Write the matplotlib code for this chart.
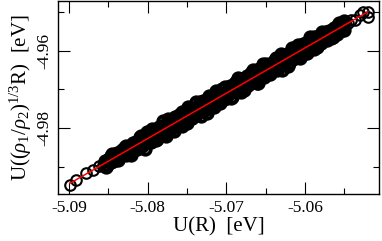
import matplotlib
matplotlib.use('Agg')
import matplotlib.pyplot as plt

plt.rcParams['font.family'] = ['Liberation Serif', 'DejaVu Serif']
plt.rcParams['mathtext.fontset'] = 'custom'
plt.rcParams['mathtext.rm'] = 'Liberation Serif'
plt.rcParams['mathtext.it'] = 'Liberation Serif:italic'

# sparse points at the low end
x_low = [-5.0899, -5.0891, -5.0878, -5.0869, -5.0862, -5.0857]
y_low = [-4.9945, -4.9933, -4.9914, -4.9907, -4.9898, -4.9895]

# dense band, first pass
x_band = [
    -5.0854, -5.0852, -5.0850, -5.0848, -5.0846, -5.0844, -5.0842, -5.0840, -5.0838, -5.0836, -5.0834, -5.0832,
    -5.0830, -5.0828, -5.0826, -5.0824, -5.0822, -5.0820, -5.0818, -5.0816, -5.0814, -5.0812, -5.0810, -5.0808,
    -5.0806, -5.0804, -5.0802, -5.0800, -5.0798, -5.0796, -5.0794, -5.0792, -5.0790, -5.0788, -5.0786, -5.0784,
    -5.0782, -5.0780, -5.0778, -5.0776, -5.0774, -5.0772, -5.0770, -5.0768, -5.0766, -5.0764, -5.0762, -5.0760,
    -5.0758, -5.0756, -5.0754, -5.0752, -5.0750, -5.0748, -5.0746, -5.0744, -5.0742, -5.0740, -5.0738, -5.0736,
    -5.0734, -5.0732, -5.0730, -5.0728, -5.0726, -5.0724, -5.0722, -5.0720, -5.0718, -5.0716, -5.0714, -5.0712,
    -5.0710, -5.0708, -5.0706, -5.0704, -5.0702, -5.0700, -5.0698, -5.0696, -5.0694, -5.0692, -5.0690, -5.0688,
    -5.0686, -5.0684, -5.0682, -5.0680, -5.0678, -5.0676, -5.0674, -5.0672, -5.0670, -5.0668, -5.0666, -5.0664,
    -5.0662, -5.0660, -5.0658, -5.0656, -5.0654, -5.0652, -5.0650, -5.0648, -5.0646, -5.0644, -5.0642, -5.0640,
    -5.0638, -5.0636, -5.0634, -5.0632, -5.0630, -5.0628, -5.0626, -5.0624, -5.0622, -5.0620, -5.0618, -5.0616,
    -5.0614, -5.0612, -5.0610, -5.0608, -5.0606, -5.0604, -5.0602, -5.0600, -5.0598, -5.0596, -5.0594, -5.0592,
    -5.0590, -5.0588, -5.0586, -5.0584, -5.0582, -5.0580, -5.0578, -5.0576, -5.0574, -5.0572, -5.0570, -5.0568,
    -5.0566, -5.0564, -5.0562, -5.0560, -5.0558, -5.0556, -5.0554, -5.0552, -5.0550,
]
y_band = [
    -4.98835, -4.98947, -4.98828, -4.98855, -4.98707, -4.98833, -4.98755, -4.98687, -4.98808, -4.98655, -4.98676, -4.98563,
    -4.98675, -4.98465, -4.98583, -4.98470, -4.98657, -4.98476, -4.98378, -4.98542, -4.98376, -4.98435, -4.98224, -4.98426,
    -4.98285, -4.98522, -4.98148, -4.98275, -4.98162, -4.98348, -4.98015, -4.98232, -4.98128, -4.98285, -4.97991, -4.98108,
    -4.97934, -4.98181, -4.97967, -4.98044, -4.97771, -4.98047, -4.97914, -4.97801, -4.98067, -4.97784, -4.97850, -4.97647,
    -4.97854, -4.97581, -4.97747, -4.97604, -4.97861, -4.97627, -4.97504, -4.97731, -4.97517, -4.97604, -4.97330, -4.97607,
    -4.97444, -4.97681, -4.97307, -4.97434, -4.97321, -4.97507, -4.97174, -4.97391, -4.97287, -4.97444, -4.97150, -4.97267,
    -4.97094, -4.97341, -4.97127, -4.97204, -4.96931, -4.97207, -4.97074, -4.96961, -4.97227, -4.96944, -4.97010, -4.96807,
    -4.97014, -4.96741, -4.96907, -4.96764, -4.97021, -4.96787, -4.96664, -4.96891, -4.96677, -4.96764, -4.96490, -4.96767,
    -4.96603, -4.96840, -4.96466, -4.96593, -4.96480, -4.96666, -4.96333, -4.96550, -4.96446, -4.96603, -4.96309, -4.96426,
    -4.96253, -4.96500, -4.96286, -4.96363, -4.96090, -4.96366, -4.96233, -4.96120, -4.96386, -4.96103, -4.96169, -4.95966,
    -4.96173, -4.95900, -4.96066, -4.95923, -4.96180, -4.95946, -4.95823, -4.96050, -4.95836, -4.95923, -4.95649, -4.95926,
    -4.95773, -4.95958, -4.95654, -4.95751, -4.95656, -4.95800, -4.95529, -4.95698, -4.95610, -4.95731, -4.95491, -4.95580,
    -4.95461, -4.95600, -4.95462, -4.95499, -4.95326, -4.95482, -4.95393, -4.95316, -4.95466,
]

# dense band, second pass
x_band2 = [
    -5.0853, -5.0849, -5.0845, -5.0841, -5.0837, -5.0833,
    -5.0829, -5.0825, -5.0821, -5.0817, -5.0813, -5.0809,
    -5.0805, -5.0801, -5.0797, -5.0793, -5.0789, -5.0785,
    -5.0781, -5.0777, -5.0773, -5.0769, -5.0765, -5.0761,
    -5.0757, -5.0753, -5.0749, -5.0745, -5.0741, -5.0737,
    -5.0733, -5.0729, -5.0725, -5.0721, -5.0717, -5.0713,
    -5.0709, -5.0705, -5.0701, -5.0697, -5.0693, -5.0689,
    -5.0685, -5.0681, -5.0677, -5.0673, -5.0669, -5.0665,
    -5.0661, -5.0657, -5.0653, -5.0649, -5.0645, -5.0641,
    -5.0637, -5.0633, -5.0629, -5.0625, -5.0621, -5.0617,
    -5.0613, -5.0609, -5.0605, -5.0601, -5.0597, -5.0593,
    -5.0589, -5.0585, -5.0581, -5.0577, -5.0573, -5.0569,
    -5.0565, -5.0561, -5.0557, -5.0553,
]
y_band2 = [
    -4.98997, -4.98788, -4.98663, -4.98815, -4.98684, -4.98691,
    -4.98475, -4.98588, -4.98685, -4.98375, -4.98528, -4.98209,
    -4.98353, -4.98096, -4.98329, -4.98123, -4.98306, -4.97959,
    -4.97822, -4.98195, -4.97858, -4.97982, -4.97705, -4.97818,
    -4.97952, -4.97635, -4.97458, -4.97742, -4.97555, -4.97598,
    -4.97322, -4.97475, -4.97608, -4.97232, -4.97435, -4.97048,
    -4.97232, -4.96975, -4.97208, -4.97002, -4.97185, -4.96838,
    -4.96702, -4.97075, -4.96738, -4.96862, -4.96585, -4.96698,
    -4.96831, -4.96514, -4.96337, -4.96621, -4.96434, -4.96477,
    -4.96201, -4.96354, -4.96487, -4.96111, -4.96314, -4.95927,
    -4.96111, -4.95854, -4.96087, -4.95881, -4.96064, -4.95717,
    -4.95647, -4.95894, -4.95644, -4.95717, -4.95509, -4.95574,
    -4.95654, -4.95418, -4.95280, -4.95465,
]

# dense band, third pass
x_band3 = [
    -5.0851, -5.0847, -5.0843, -5.0839, -5.0835, -5.0831,
    -5.0827, -5.0823, -5.0819, -5.0815, -5.0811, -5.0807,
    -5.0803, -5.0799, -5.0795, -5.0791, -5.0787, -5.0783,
    -5.0779, -5.0775, -5.0771, -5.0767, -5.0763, -5.0759,
    -5.0755, -5.0751, -5.0747, -5.0743, -5.0739, -5.0735,
    -5.0731, -5.0727, -5.0723, -5.0719, -5.0715, -5.0711,
    -5.0707, -5.0703, -5.0699, -5.0695, -5.0691, -5.0687,
    -5.0683, -5.0679, -5.0675, -5.0671, -5.0667, -5.0663,
    -5.0659, -5.0655, -5.0651, -5.0647, -5.0643, -5.0639,
    -5.0635, -5.0631, -5.0627, -5.0623, -5.0619, -5.0615,
    -5.0611, -5.0607, -5.0603, -5.0599, -5.0595, -5.0591,
    -5.0587, -5.0583, -5.0579, -5.0575, -5.0571, -5.0567,
    -5.0563, -5.0559, -5.0555, -5.0551,
]
y_band3 = [
    -4.98806, -4.98879, -4.98748, -4.98648, -4.98715, -4.98638,
    -4.98680, -4.98473, -4.98376, -4.98480, -4.98313, -4.98466,
    -4.98210, -4.98363, -4.98176, -4.98040, -4.98183, -4.98086,
    -4.98119, -4.97912, -4.97815, -4.97919, -4.97752, -4.97905,
    -4.97649, -4.97802, -4.97615, -4.97479, -4.97622, -4.97525,
    -4.97559, -4.97352, -4.97255, -4.97359, -4.97192, -4.97345,
    -4.97089, -4.97242, -4.97055, -4.96919, -4.97062, -4.96965,
    -4.96999, -4.96792, -4.96695, -4.96799, -4.96632, -4.96785,
    -4.96528, -4.96681, -4.96494, -4.96358, -4.96501, -4.96404,
    -4.96438, -4.96231, -4.96134, -4.96238, -4.96071, -4.96224,
    -4.95968, -4.96121, -4.95934, -4.95798, -4.95941, -4.95844,
    -4.95878, -4.95671, -4.95574, -4.95678, -4.95511, -4.95664,
    -4.95408, -4.95561, -4.95374, -4.95238,
]

# sparse points at the high end
x_high = [-5.0545, -5.0541, -5.0537, -5.0530, -5.0526, -5.0520, -5.0520]
y_high = [-4.9529, -4.9520, -4.9521, -4.9508, -4.9500, -4.9500, -4.9512]

# fitted line
fit_x = [-5.0899, -5.0520]
fit_y = [-4.9942, -4.94995]

xticks = [-5.09, -5.08, -5.07, -5.06]
yticks = [-4.98, -4.96]

fig = plt.figure(figsize=(3.82, 2.41), dpi=100)
ax = fig.add_axes([0.1526, 0.195, 0.8395, 0.8009])

ax.plot(x_low + x_high, y_low + y_high, 'o', ms=7.6, mfc='none', mec='black', mew=1.5)
ax.plot(x_band + x_band2 + x_band3, y_band + y_band2 + y_band3, 'o',
        ms=7.6, mfc='none', mec='black', mew=2.7)
ax.plot(fit_x, fit_y, '-', color='red', lw=1.1)

ax.set_xlim(-5.09136, -5.0506)
ax.set_ylim(-4.99693, -4.9472)
ax.set_xticks(xticks)
ax.set_xticks([-5.085, -5.075, -5.065, -5.055], minor=True)
ax.set_yticks(yticks)
ax.set_yticks([-4.99, -4.97, -4.95], minor=True)
ax.set_xticklabels(['%.2f' % v for v in xticks])
ax.set_yticklabels(['%.2f' % v for v in yticks], rotation=90, va='center')

ax.tick_params(which='both', direction='in', top=True, right=True, width=0.8, labelsize=12.5)
ax.tick_params(which='major', length=8.8, pad=4)
ax.tick_params(which='minor', length=4.6)
for s in ax.spines.values():
    s.set_linewidth(1.0)

ax.set_xlabel('U(R)  [eV]', fontsize=15, labelpad=1)
ax.set_ylabel(r'U(($\rho_1$/$\rho_2$)$^{1/3}$R)  [eV]', fontsize=15, labelpad=2)

fig.savefig('out.png', dpi=100)
